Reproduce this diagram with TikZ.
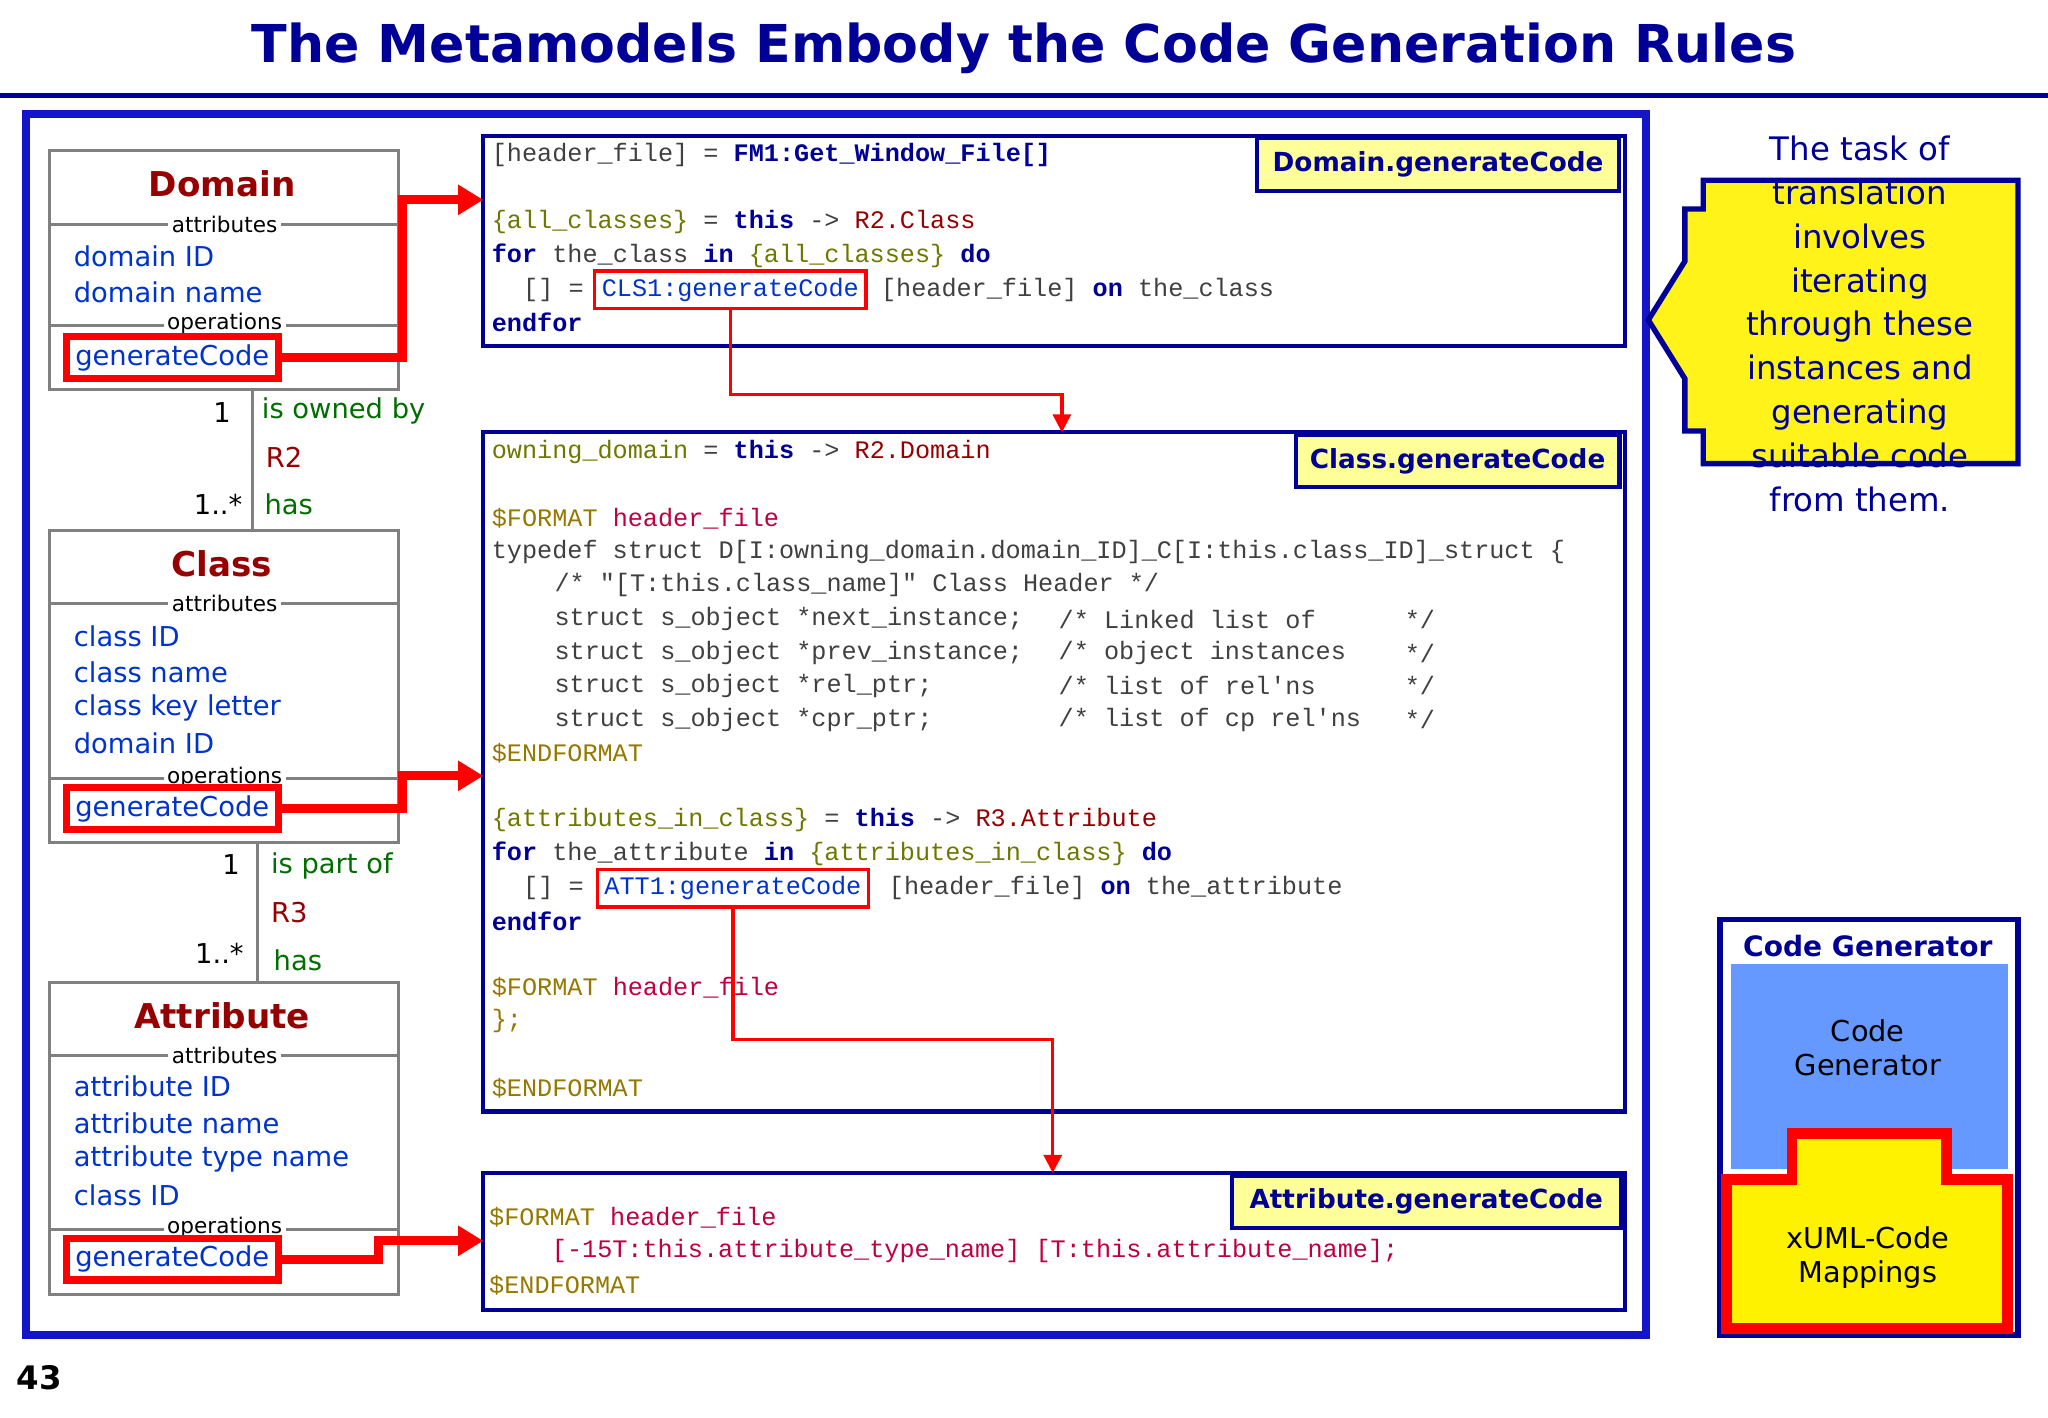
\documentclass[tikz,border=0pt]{standalone}
\usepackage{fontspec}
\setmainfont{DejaVu Sans}
\setmonofont{Liberation Mono}
\usetikzlibrary{arrows.meta}
\definecolor{navy}{RGB}{0,0,150}
\definecolor{frameblue}{RGB}{20,20,200}
\definecolor{attrblue}{RGB}{0,51,204}
\definecolor{clsred}{RGB}{150,0,0}
\definecolor{assocgreen}{RGB}{0,110,0}
\definecolor{olive}{RGB}{110,120,0}
\definecolor{fmt}{RGB}{150,120,0}
\definecolor{tagyellow}{RGB}{255,255,153}
\definecolor{genblue}{RGB}{102,153,255}
\newcommand{\kw}[1]{\textcolor{navy}{\textbf{#1}}}
\newcommand{\vr}[1]{\textcolor{olive}{#1}}
\newcommand{\rl}[1]{\textcolor{clsred}{#1}}
\newcommand{\fm}[1]{\textcolor{fmt}{#1}}
\newcommand{\mv}[1]{\textcolor{purple}{#1}}
\tikzset{
  cls/.style={draw=gray, line width=0.8pt},
  clsname/.style={font=\bfseries\fontsize{9.5}{12}\selectfont, text=clsred},
  sect/.style={font=\fontsize{6}{7}\selectfont, fill=white, inner sep=1pt},
  attr/.style={anchor=west, font=\fontsize{7.6}{9}\selectfont, text=attrblue, inner sep=0pt},
  gen/.style={draw=red, line width=2pt, anchor=west, font=\fontsize{7.6}{9}\selectfont,
    text=attrblue, minimum width=2.07cm, minimum height=0.41cm, inner sep=1pt},
  assoc/.style={font=\fontsize{7.6}{9}\selectfont, inner sep=0pt},
  code/.style={anchor=west, font=\ttfamily\fontsize{7}{8}\selectfont, text=black!75, inner sep=0pt},
  codebox/.style={draw=navy, line width=1.2pt},
  tag/.style={draw=navy, line width=1.2pt, fill=tagyellow, font=\bfseries\fontsize{7.3}{9}\selectfont, text=navy},
  thick link/.style={draw=red, line width=2.5pt, -{Triangle[length=7pt,width=8pt]}},
  thin link/.style={draw=red, line width=0.9pt, -{Triangle[length=5pt,width=5pt]}},
}
\begin{document}
\begin{tikzpicture}[x=0.01275cm, y=-0.01275cm]
    \useasboundingbox (0,0) rectangle (1568,1085);
    % Title
    \node[font=\bfseries\fontsize{14.5}{18}\selectfont, text=navy] (title) at (784,37) {The Metamodels Embody the Code Generation Rules};
    \draw[navy, line width=1.5pt] (0,73) -- (1568,73);
    \draw[frameblue, line width=2.2pt] (20,87) rectangle (1260,1022);
    \node[font=\bfseries\fontsize{9}{10}\selectfont] (pgnum) at (30,1055) {43};
    % Class boxes
    \foreach \top/\bot/\ya/\yo/\nm in {115/298/172/249/Domain, 406/645/462/596/Class, 752/991/808/941/Attribute} {
        \draw[cls] (38,\top) rectangle (305,\bot);
        \draw[cls] (38,\ya) -- (305,\ya);
        \draw[cls] (38,\yo) -- (305,\yo);
        \node[clsname] at (170,\top+26) {\nm};
        \node[sect] at (172,\ya) {attributes};
        \node[sect] at (172,\yo-1) {operations};
    }
    % Attributes
    \foreach \y/\t in {196/domain ID, 224/domain name, 487/class ID, 515/class name, 542/class key letter, 569/domain ID,
        832/attribute ID, 860/attribute name, 887/attribute type name, 915/class ID}
        \node[attr] at (56,\y) {\t};
    \node[gen] (domgen) at (48,274) {generateCode};
    \node[gen] (clsgen) at (48,619) {generateCode};
    \node[gen] (attgen) at (48,964) {generateCode};
    % Associations
    \draw[gray, line width=0.8pt] (193,298) -- (193,406);
    \node[assoc] at (170,316) {1};
    \node[assoc, anchor=west, text=assocgreen] at (200,315) {is owned by};
    \node[assoc, anchor=west, text=clsred] at (203,350) {R2};
    \node[assoc] at (167,386) {1..*};
    \node[assoc, anchor=west, text=assocgreen] at (202,386) {has};
    \draw[gray, line width=0.8pt] (197,645) -- (197,752);
    \node[assoc] at (177,662) {1};
    \node[assoc, anchor=west, text=assocgreen] at (207,663) {is part of};
    \node[assoc, anchor=west, text=clsred] at (207,699) {R3};
    \node[assoc] at (168,730) {1..*};
    \node[assoc, anchor=west, text=assocgreen] at (209,735) {has};
    % Code boxes
    \draw[codebox] (370,104) rectangle (1244,265);
    \draw[codebox] (370,331) rectangle (1244,851);
    \draw[codebox] (370,898) rectangle (1244,1003);
    \node[tag, minimum width=3.53cm, minimum height=0.52cm] (domtag) at (1101,126) {Domain.generateCode};
    \node[tag, minimum width=3.16cm, minimum height=0.51cm] (clstag) at (1116,353) {Class.generateCode};
    \node[tag, minimum width=3.8cm, minimum height=0.51cm] (atttag) at (1092,920) {Attribute.generateCode};
    \coordinate (domin) at (370,153);
    \coordinate (clsin) at (370,594);
    \coordinate (attin) at (370,950);
    % Domain code
    \node[code] at (376,119) {[header\_file] = \kw{FM1:Get\_Window\_File[]}};
    \node[code] at (376,170) {\vr{\{all\_classes\}} = \kw{this} -> \rl{R2.Class}};
    \node[code] at (376,196) {\kw{for} the\_class \kw{in} \vr{\{all\_classes\}} \kw{do}};
    \node[code] at (400,222) {[] =};
    \node[code, draw=red, line width=0.9pt, inner sep=2pt, text=attrblue] (cls1) at (454,222) {CLS1:generateCode};
    \node[code] at (674,222) {[header\_file] \kw{on} the\_class};
    \node[code] at (376,247) {\kw{endfor}};
    % Class code
    \node[code] at (376,346) {\vr{owning\_domain} = \kw{this} -> \rl{R2.Domain}};
    \node[code] at (376,397) {\fm{\$FORMAT} \mv{header\_file}};
    \node[code] at (376,423) {typedef struct D[I:owning\_domain.domain\_ID]\_C[I:this.class\_ID]\_struct \{};
    \node[code] at (424,448) {/* "[T:this.class\_name]" Class Header */};
    \foreach \y/\a/\b in {474/next\_instance;/Linked list of, 500/prev\_instance;/object instances,
        525/rel\_ptr;/list of rel'ns, 551/cpr\_ptr;/list of cp rel'ns} {
        \node[code] at (424,\y) {struct s\_object *\a};
        \node[code] at (810,\y) {/* \b};
        \node[code] at (1075,\y) {*/};
    }
    \node[code] at (376,577) {\fm{\$ENDFORMAT}};
    \node[code] at (376,628) {\vr{\{attributes\_in\_class\}} = \kw{this} -> \rl{R3.Attribute}};
    \node[code] at (376,654) {\kw{for} the\_attribute \kw{in} \vr{\{attributes\_in\_class\}} \kw{do}};
    \node[code] at (400,680) {[] =};
    \node[code, draw=red, line width=0.9pt, inner sep=2pt, text=attrblue] (att1) at (456,680) {ATT1:generateCode};
    \node[code] at (680,680) {[header\_file] \kw{on} the\_attribute};
    \node[code] at (376,705) {\kw{endfor}};
    \node[code] at (376,756) {\fm{\$FORMAT} \mv{header\_file}};
    \node[code] at (376,782) {\fm{\};}};
    \node[code] at (376,833) {\fm{\$ENDFORMAT}};
    % Attribute code
    \node[code] at (374,932) {\fm{\$FORMAT} \mv{header\_file}};
    \node[code] at (422,958) {\mv{[-15T:this.attribute\_type\_name] [T:this.attribute\_name];}};
    \node[code] at (374,984) {\fm{\$ENDFORMAT}};
    % Links
    \draw[thick link] (domgen.east) -| (308,153) -- (domin);
    \draw[thick link] (clsgen.east) -| (308,594) -- (clsin);
    \draw[thick link] (attgen.east) -| (290,950) -- (attin);
    \draw[thin link] (cls1.south) |- (813,302) -- (813,331);
    \draw[thin link] (att1.south) |- (806,796) -- (806,898);
    % Callout
    \draw[navy, line width=1.5pt, fill=yellow!90!white] (1304,138) -- (1545,138) -- (1545,355) -- (1304,355)
        -- (1304,330) -- (1290,330) -- (1290,290) -- (1262,245) -- (1290,200) -- (1290,160) -- (1304,160) -- cycle;
    \node[align=center, text=navy, font=\fontsize{9}{12.2}\selectfont] (task) at (1424,248)
        {The task of\\translation\\involves\\iterating\\through these\\instances and\\generating\\suitable code\\from them.};
    % Code generator
    \draw[navy, line width=1.5pt, fill=white] (1317,704) rectangle (1545,1022);
    \node[font=\bfseries\fontsize{7.8}{10}\selectfont, text=navy] (cgtitle) at (1430,724) {Code Generator};
    \fill[genblue] (1325,738) rectangle (1537,895);
    \node[align=center, font=\fontsize{8}{9.5}\selectfont] (cg) at (1430,802) {Code\\Generator};
    \draw[red, line width=3pt, fill=yellow] (1322,903) -- (1372,903) -- (1372,868) -- (1490,868) -- (1490,903)
        -- (1537,903) -- (1537,1017) -- (1322,1017) -- cycle;
    \node[align=center, font=\fontsize{8}{9.5}\selectfont] (map) at (1430,963) {xUML-Code\\Mappings};
\end{tikzpicture}
\end{document}
